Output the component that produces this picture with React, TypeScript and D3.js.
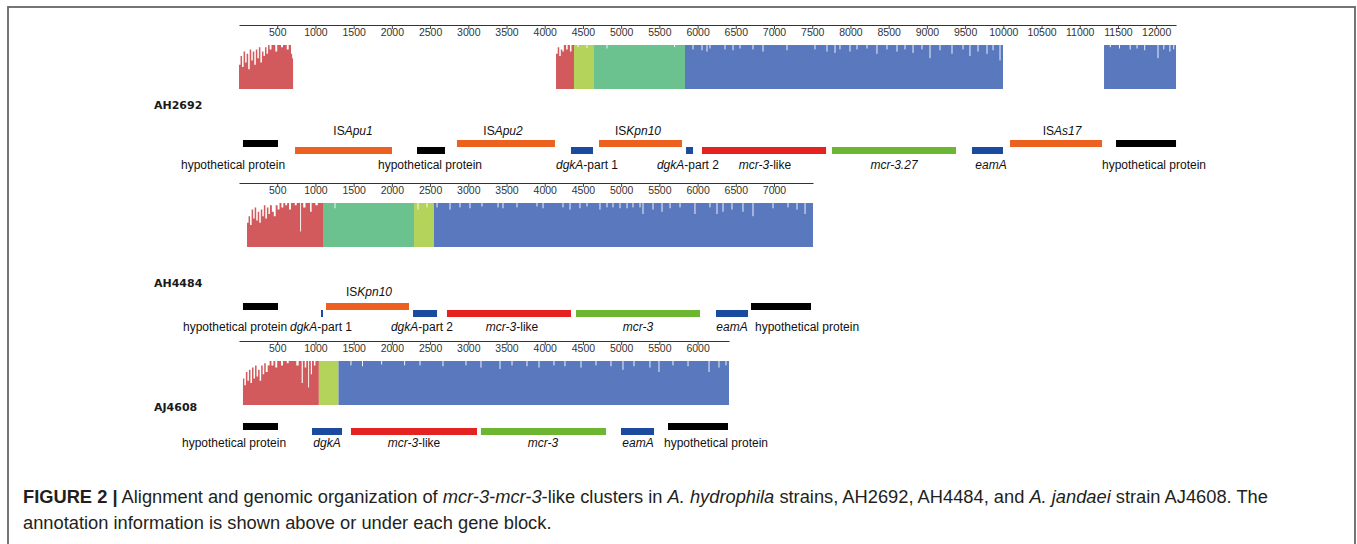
import React, { useEffect, useRef } from "react";
import * as d3 from "d3";

// ---- data (base pairs) ----

const ticksAH2692 = [500, 1000, 1500, 2000, 2500, 3000, 3500, 4000, 4500, 5000, 5500, 6000, 6500, 7000, 7500, 8000, 8500, 9000, 9500, 10000, 10500, 11000, 11500, 12000];
const ticksAH4484 = [500, 1000, 1500, 2000, 2500, 3000, 3500, 4000, 4500, 5000, 5500, 6000, 6500, 7000];
const ticksAJ4608 = [500, 1000, 1500, 2000, 2500, 3000, 3500, 4000, 4500, 5000, 5500, 6000];

const lengthAH2692 = 12260;
const lengthAH4484 = 7510;
const lengthAJ4608 = 6411;

type Profile = [number, number][];
type Block = { start: number; end: number; kind: string; profile?: Profile };
type Dip = [number, number];

const redProfileAH2692a: Profile = [
  [0, 0.55], [20, 0.75], [40, 0.5], [60, 0.85], [80, 0.6], [100, 0.8], [120, 0.45], [140, 0.9],
  [160, 0.65], [180, 0.85], [200, 0.55], [220, 0.9], [240, 0.7], [260, 0.95], [280, 0.6], [300, 0.85],
  [320, 0.75], [340, 0.95], [360, 0.8], [380, 1], [400, 0.9], [425, 1], [475, 0.85], [500, 1], [550, 0.95],
  [575, 1], [625, 0.9], [650, 1], [680, 0.8], [695, 0.7]
];
const redProfileAH2692b: Profile = [
  [4148, 0.8], [4170, 0.95], [4190, 0.75], [4210, 0.9], [4230, 0.85], [4250, 1], [4280, 0.9], [4300, 1], [4330, 0.85], [4350, 1]
];
const redProfileAH4484: Profile = [
  [105, 0.55], [125, 0.7], [145, 0.5], [165, 0.85], [185, 0.65], [205, 0.9], [225, 0.6], [245, 0.8],
  [265, 0.55], [285, 0.85], [305, 0.7], [325, 0.95], [345, 0.65], [365, 0.9], [385, 0.75], [405, 0.95],
  [430, 0.8], [455, 0.7], [480, 0.95], [505, 0.85], [530, 1], [555, 0.9], [580, 1], [605, 0.95], [630, 1],
  [655, 0.85], [680, 1], [730, 0.95], [755, 1], [800, 0.35], [812, 1], [840, 0.9], [870, 1], [930, 0.8],
  [950, 1], [1000, 0.95], [1030, 1]
];
const redProfileAJ4608: Profile = [
  [52, 0.6], [70, 0.45], [90, 0.75], [110, 0.55], [130, 0.8], [150, 0.5], [170, 0.85], [190, 0.6],
  [210, 0.9], [230, 0.65], [250, 0.8], [270, 0.55], [290, 0.9], [310, 0.7], [330, 0.95], [350, 0.75],
  [375, 0.9], [400, 1], [425, 0.9], [450, 1], [475, 0.85], [500, 1], [550, 0.9], [575, 1], [625, 0.95],
  [650, 1], [750, 0.9], [780, 1], [820, 0.5], [835, 1], [860, 0.85], [880, 1], [905, 0.4], [917, 1],
  [940, 0.7], [955, 1], [980, 0.9], [1000, 1]
];

const blocksAH2692: Block[] = [
  { start: 0, end: 707, kind: "red", profile: redProfileAH2692a },
  { start: 4148, end: 4383, kind: "red", profile: redProfileAH2692b },
  { start: 4383, end: 4645, kind: "lime" },
  { start: 4645, end: 5835, kind: "green" },
  { start: 5835, end: 9996, kind: "blue" },
  { start: 11318, end: 12260, kind: "blue" }
];
const blocksAH4484: Block[] = [
  { start: 105, end: 1099, kind: "red", profile: redProfileAH4484 },
  { start: 1099, end: 2290, kind: "green" },
  { start: 2290, end: 2551, kind: "lime" },
  { start: 2551, end: 7510, kind: "blue" }
];
const blocksAJ4608: Block[] = [
  { start: 52, end: 1045, kind: "red", profile: redProfileAJ4608 },
  { start: 1045, end: 1302, kind: "lime" },
  { start: 1302, end: 6411, kind: "blue" }
];

const dipsAH2692: Dip[] = [
  [4436, 0.05], [4553, 0.07], [4815, 0.08], [5700, 0.05],
  [5940, 0.1], [6058, 0.12], [6123, 0.15], [6162, 0.08], [6359, 0.1], [6464, 0.12], [6555, 0.08], [6725, 0.1],
  [6856, 0.15], [7170, 0.12], [7536, 0.1], [7693, 0.15], [7798, 0.18], [7863, 0.1], [7994, 0.15], [8086, 0.1],
  [8217, 0.08], [8347, 0.2], [8478, 0.1], [8609, 0.15], [8714, 0.1], [8819, 0.18], [8936, 0.1], [9041, 0.3],
  [9172, 0.12], [9329, 0.2], [9473, 0.1], [9564, 0.25], [9669, 0.15], [9787, 0.2], [9866, 0.12], [9957, 0.35],
  [11400, 0.05], [11520, 0.08], [11660, 0.1], [11750, 0.08], [11850, 0.12], [12024, 0.3], [12100, 0.1], [12180, 0.15], [12230, 0.1]
];
const dipsAH4484: Dip[] = [
  [1256, 0.12], [2342, 0.15], [2460, 0.1],
  [2591, 0.1], [2761, 0.15], [2891, 0.1], [3022, 0.12], [3179, 0.08], [3389, 0.1], [3454, 0.12], [3637, 0.1],
  [3899, 0.08], [3978, 0.12], [4239, 0.1], [4331, 0.15], [4461, 0.12], [4553, 0.08], [4723, 0.15], [4815, 0.1],
  [4893, 0.1], [4985, 0.12], [5077, 0.12], [5155, 0.1], [5247, 0.1], [5286, 0.25], [5417, 0.15], [5535, 0.2],
  [5640, 0.12], [5770, 0.1], [5966, 0.25], [6162, 0.1], [6254, 0.25], [6333, 0.2], [6450, 0.15], [6594, 0.2],
  [6725, 0.3], [6987, 0.12], [7183, 0.1], [7301, 0.15], [7406, 0.25]
];
const dipsAJ4608: Dip[] = [
  [1465, 0.1], [1616, 0.12], [1866, 0.08], [2167, 0.1], [2368, 0.1], [2669, 0.12], [2970, 0.1], [3166, 0.15],
  [3415, 0.18], [3572, 0.1], [3768, 0.12], [3925, 0.15], [4121, 0.1], [4265, 0.12], [4475, 0.15], [4671, 0.1],
  [4867, 0.12], [5024, 0.2], [5168, 0.12], [5377, 0.15], [5495, 0.25], [5678, 0.1], [5875, 0.12], [6150, 0.25],
  [6280, 0.15], [6372, 0.1]
];

type Part = [string, boolean]; // text, italic
type Gene = { start: number; end: number; kind: string; row: "upper" | "lower"; label: Part[]; labelAt: number; side: "above" | "below" };

const HYP: Part[] = [["hypothetical protein", false]];

const genesAH2692: Gene[] = [
  { start: 52, end: 510, kind: "hyp", row: "upper", label: HYP, labelAt: -78, side: "below" },
  { start: 733, end: 2002, kind: "is", row: "lower", label: [["IS", false], ["Apu1", true]], labelAt: 1492, side: "above" },
  { start: 2329, end: 2695, kind: "hyp", row: "lower", label: HYP, labelAt: 2499, side: "below" },
  { start: 2852, end: 4134, kind: "is", row: "upper", label: [["IS", false], ["Apu2", true]], labelAt: 3454, side: "above" },
  { start: 4344, end: 4632, kind: "dgk", row: "lower", label: [["dgkA", true], ["-part 1", false]], labelAt: 4553, side: "below" },
  { start: 4710, end: 5796, kind: "is", row: "upper", label: [["IS", false], ["Kpn10", true]], labelAt: 5220, side: "above" },
  { start: 5849, end: 5940, kind: "dgk", row: "lower", label: [["dgkA", true], ["-part 2", false]], labelAt: 5874, side: "below" },
  { start: 6058, end: 7681, kind: "mcrlike", row: "lower", label: [["mcr-3", true], ["-like", false]], labelAt: 6882, side: "below" },
  { start: 7759, end: 9381, kind: "mcr", row: "lower", label: [["mcr-3.27", true]], labelAt: 8570, side: "below" },
  { start: 9590, end: 9996, kind: "dgk", row: "lower", label: [["eamA", true]], labelAt: 9839, side: "below" },
  { start: 10088, end: 11292, kind: "is", row: "upper", label: [["IS", false], ["As17", true]], labelAt: 10768, side: "above" },
  { start: 11475, end: 12260, kind: "hyp", row: "upper", label: HYP, labelAt: 11972, side: "below" }
];
const genesAH4484: Gene[] = [
  { start: 52, end: 510, kind: "hyp", row: "upper", label: HYP, labelAt: -52, side: "below" },
  { start: 1073, end: 1099, kind: "dgk", row: "lower", label: [["dgkA", true], ["-part 1", false]], labelAt: 1073, side: "below" },
  { start: 1138, end: 2224, kind: "is", row: "upper", label: [["IS", false], ["Kpn10", true]], labelAt: 1701, side: "above" },
  { start: 2277, end: 2591, kind: "dgk", row: "lower", label: [["dgkA", true], ["-part 2", false]], labelAt: 2394, side: "below" },
  { start: 2721, end: 4344, kind: "mcrlike", row: "lower", label: [["mcr-3", true], ["-like", false]], labelAt: 3572, side: "below" },
  { start: 4409, end: 6032, kind: "mcr", row: "lower", label: [["mcr-3", true]], labelAt: 5220, side: "below" },
  { start: 6241, end: 6660, kind: "dgk", row: "lower", label: [["eamA", true]], labelAt: 6450, side: "below" },
  { start: 6699, end: 7484, kind: "hyp", row: "upper", label: HYP, labelAt: 7432, side: "below" }
];
const genesAJ4608: Gene[] = [
  { start: 52, end: 510, kind: "hyp", row: "upper", label: HYP, labelAt: -65, side: "below" },
  { start: 955, end: 1348, kind: "dgk", row: "lower", label: [["dgkA", true]], labelAt: 1151, side: "below" },
  { start: 1465, end: 3114, kind: "mcrlike", row: "lower", label: [["mcr-3", true], ["-like", false]], labelAt: 2290, side: "below" },
  { start: 3166, end: 4802, kind: "mcr", row: "lower", label: [["mcr-3", true]], labelAt: 3978, side: "below" },
  { start: 4998, end: 5430, kind: "dgk", row: "lower", label: [["eamA", true]], labelAt: 5221, side: "below" },
  { start: 5613, end: 6398, kind: "hyp", row: "upper", label: HYP, labelAt: 6241, side: "below" }
];

// ---- drawing ----

const PX_PER_BP = 0.07643;
const X_ORIGIN = 239;
const SANS = "'Liberation Sans', Arial, Helvetica, sans-serif";

const blockColor: Record<string, string> = {
  red: "#d25a5c",
  lime: "#b3d35b",
  green: "#6bc28f",
  blue: "#5a78bd"
};
const geneColor: Record<string, string> = {
  hyp: "#000000",
  is: "#ec6120",
  dgk: "#1b4b9f",
  mcrlike: "#e4221f",
  mcr: "#6cb632"
};

type Layout = { axisY: number; covTop: number; covBottom: number; nameY: number; upperY: number; lowerY: number; belowY: number; aboveY: number };

function Ruler({ x, y, ticks }: { x: d3.ScaleLinear<number, number>; y: number; ticks: number[] }) {
  const ref = useRef<SVGGElement>(null);
  useEffect(() => {
    const axis = d3.axisBottom(x).tickValues(ticks).tickSize(4).tickPadding(0).tickSizeOuter(0).tickFormat(d3.format("d"));
    const g = d3.select(ref.current!).call(axis as any);
    g.select(".domain").attr("stroke", "#333");
    g.selectAll(".tick line").attr("stroke", "#444");
    g.selectAll(".tick text").attr("fill", "#333").style("font-size", "10.5px").style("font-family", SANS);
  }, [x, ticks]);
  return <g ref={ref} transform={`translate(0,${y})`} fontFamily={SANS} />;
}

function Panel({ name, length, ticks, blocks, dips, genes, layout }: {
  name: string; length: number; ticks: number[]; blocks: Block[]; dips: Dip[]; genes: Gene[]; layout: Layout;
}) {
  const x = d3.scaleLinear().domain([0, length]).range([X_ORIGIN, X_ORIGIN + length * PX_PER_BP]);
  const h = layout.covBottom - layout.covTop;
  const y = d3.scaleLinear().domain([0, 1]).range([layout.covBottom, layout.covTop]);

  const area = d3.area<[number, number]>()
    .x(d => x(d[0]))
    .y0(layout.covBottom)
    .y1(d => y(d[1]))
    .curve(d3.curveStepAfter);

  return (
    <g>
      <Ruler x={x} y={layout.axisY} ticks={ticks} />

      {blocks.map((b, i) =>
        b.profile ? (
          <path key={i} d={area([...b.profile, [b.end, b.profile[b.profile.length - 1][1]]]) || ""} fill={blockColor[b.kind]} />
        ) : (
          <rect key={i} x={x(b.start)} y={layout.covTop} width={x(b.end) - x(b.start)} height={h} fill={blockColor[b.kind]} />
        )
      )}
      {dips.map((d, i) => (
        <line key={i} x1={x(d[0])} x2={x(d[0])} y1={layout.covTop} y2={layout.covTop + d[1] * h} stroke="#fff" strokeWidth={1} opacity={0.9} />
      ))}

      <text x={154} y={layout.nameY} fontFamily="'DejaVu Sans', Verdana, sans-serif" fontWeight="bold" fontSize={11} fill="#1a1a1a">
        {name}
      </text>

      {genes.map((g, i) => (
        <rect key={i} x={x(g.start)} y={g.row === "upper" ? layout.upperY : layout.lowerY}
          width={Math.max(2, x(g.end) - x(g.start))} height={7} fill={geneColor[g.kind]} />
      ))}
      {genes.map((g, i) => (
        <text key={i} x={x(g.labelAt)} y={g.side === "above" ? layout.aboveY : layout.belowY}
          textAnchor="middle" fontFamily={SANS} fontSize={12} fill="#111">
          {g.label.map((p, j) => (
            <tspan key={j} fontStyle={p[1] ? "italic" : "normal"}>{p[0]}</tspan>
          ))}
        </text>
      ))}
    </g>
  );
}

export default function App() {
  const width = 1357, height = 544;
  return (
    <svg width={width} height={height} style={{ position: "absolute", left: 0, top: 0, background: "#fff" }}>
      <rect x={8} y={7} width={1347} height={600} fill="none" stroke="#666" strokeWidth={1.8} />

      <Panel name="AH2692" length={lengthAH2692} ticks={ticksAH2692} blocks={blocksAH2692} dips={dipsAH2692} genes={genesAH2692}
        layout={{ axisY: 25, covTop: 45, covBottom: 89, nameY: 109, upperY: 140, lowerY: 147, belowY: 169, aboveY: 135 }} />
      <Panel name="AH4484" length={lengthAH4484} ticks={ticksAH4484} blocks={blocksAH4484} dips={dipsAH4484} genes={genesAH4484}
        layout={{ axisY: 183, covTop: 203, covBottom: 247, nameY: 287, upperY: 303, lowerY: 310, belowY: 331, aboveY: 296 }} />
      <Panel name="AJ4608" length={lengthAJ4608} ticks={ticksAJ4608} blocks={blocksAJ4608} dips={dipsAJ4608} genes={genesAJ4608}
        layout={{ axisY: 341, covTop: 361, covBottom: 405, nameY: 411, upperY: 423, lowerY: 428, belowY: 447, aboveY: 418 }} />

      <text x={23} y={503} fontFamily={SANS} fontSize={18.3} fill="#231f20">
        <tspan fontWeight="bold">FIGURE 2 |</tspan>
        <tspan> Alignment and genomic organization of </tspan>
        <tspan fontStyle="italic">mcr-3-mcr-3</tspan>
        <tspan>-like clusters in </tspan>
        <tspan fontStyle="italic">A. hydrophila</tspan>
        <tspan> strains, AH2692, AH4484, and </tspan>
        <tspan fontStyle="italic">A. jandaei</tspan>
        <tspan> strain AJ4608. The</tspan>
      </text>
      <text x={23} y={529} fontFamily={SANS} fontSize={18.3} fill="#231f20">
        annotation information is shown above or under each gene block.
      </text>
    </svg>
  );
}
